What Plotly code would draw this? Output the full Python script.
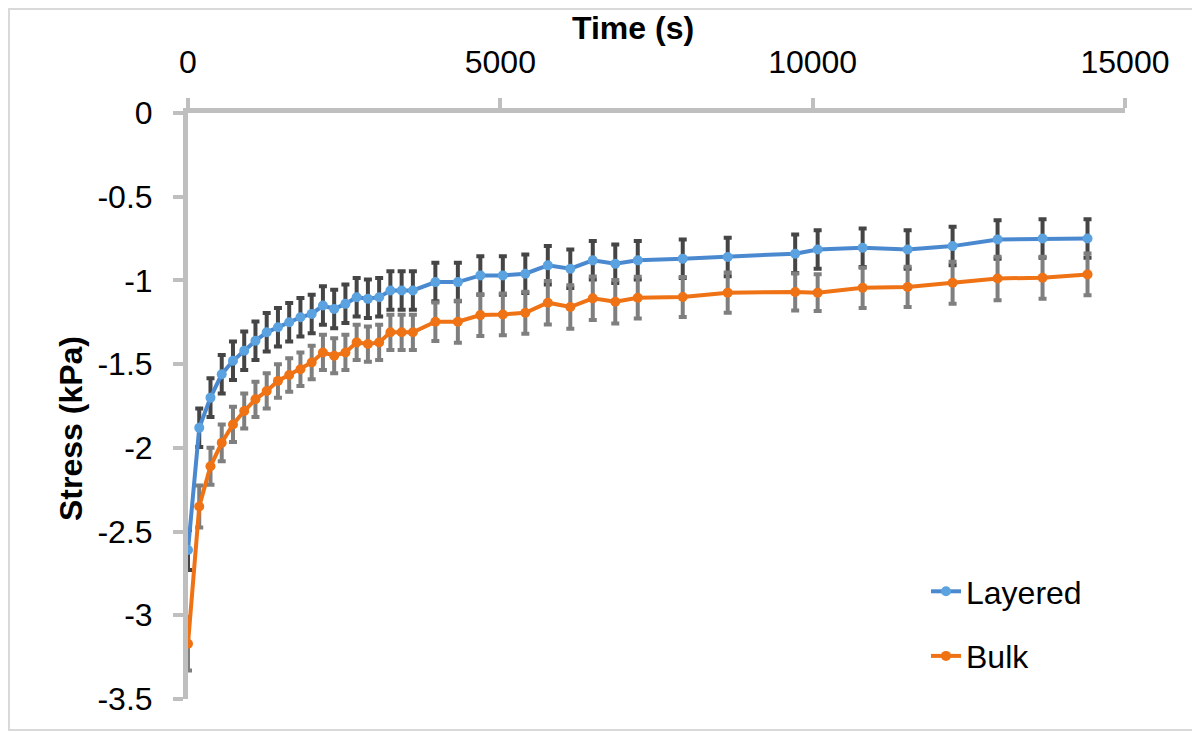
import plotly.graph_objects as go

# ---- data ----
time_s = [0, 180, 360, 540, 720, 900, 1080, 1260, 1440, 1620, 1800, 1980, 2160, 2340,
          2520, 2700, 2880, 3060, 3240, 3420, 3600,
          3960, 4320, 4680, 5040, 5400, 5760, 6120, 6480, 6840, 7200,
          7920, 8640, 9720, 10080, 10800, 11520, 12240, 12960, 13680, 14400]

layered = [-2.61, -1.88, -1.70, -1.56, -1.48, -1.42, -1.36, -1.31, -1.28, -1.25, -1.22,
           -1.20, -1.15, -1.17, -1.14, -1.10, -1.11, -1.10, -1.06, -1.06, -1.06,
           -1.01, -1.01, -0.97, -0.97, -0.96, -0.91, -0.93, -0.88, -0.90, -0.88,
           -0.87, -0.86, -0.84, -0.815, -0.805, -0.815, -0.795, -0.755, -0.75, -0.75]
layered_err = [0.12, 0.115, 0.115, 0.115, 0.115, 0.115, 0.115, 0.115, 0.115, 0.115, 0.115,
               0.115, 0.115, 0.115, 0.115, 0.115, 0.115, 0.115, 0.115, 0.115, 0.115,
               0.115, 0.115, 0.115, 0.115, 0.115, 0.115, 0.115, 0.115, 0.115, 0.115,
               0.115, 0.115, 0.115, 0.115, 0.115, 0.115, 0.115, 0.115, 0.115, 0.115]

bulk = [-3.17, -2.35, -2.11, -1.97, -1.86, -1.78, -1.71, -1.66, -1.60, -1.565, -1.53,
        -1.49, -1.43, -1.45, -1.43, -1.37, -1.38, -1.37, -1.31, -1.31, -1.31,
        -1.247, -1.247, -1.207, -1.203, -1.193, -1.133, -1.159, -1.107, -1.127, -1.103,
        -1.099, -1.073, -1.069, -1.073, -1.044, -1.039, -1.014, -0.988, -0.984, -0.964]
bulk_err = [0.16, 0.125, 0.11, 0.11, 0.105, 0.105, 0.105, 0.105, 0.10, 0.10, 0.10,
            0.10, 0.105, 0.105, 0.105, 0.105, 0.105, 0.105, 0.105, 0.105, 0.105,
            0.115, 0.125, 0.125, 0.125, 0.125, 0.13, 0.13, 0.13, 0.13, 0.125,
            0.12, 0.12, 0.11, 0.11, 0.12, 0.12, 0.125, 0.13, 0.125, 0.125]

x_ticks = [0, 5000, 10000, 15000]
x_tick_labels = ["0", "5000", "10000", "15000"]
y_ticks = [0, -0.5, -1, -1.5, -2, -2.5, -3, -3.5]
y_tick_labels = ["0", "-0.5", "-1", "-1.5", "-2", "-2.5", "-3", "-3.5"]

# ---- layout geometry (page pixels; the page body has an 8px margin) ----
OFF = 8
W, H = 1200 - OFF, 732 - OFF
PLOT_L, PLOT_R, PLOT_T, PLOT_B = 188, 1125, 113, 699   # target plot box on page
L, T = PLOT_L - OFF, PLOT_T - OFF
R, B = W - (PLOT_R - OFF), H - (PLOT_B - OFF)
PW, PH = W - L - R, H - T - B


def px_x(px):
    return (px - OFF - L) / PW


def px_y(py):
    return (H - B - (py - OFF)) / PH


FONT = "Liberation Sans, Arial, sans-serif"
AXIS_GREY = "#bfbfbf"

fig = go.Figure()
fig.add_trace(go.Scatter(
    x=time_s, y=layered, name="Layered", mode="lines+markers",
    legendgroup="a", cliponaxis=False,
    line=dict(color="#4a89d0", width=4),
    marker=dict(color="#5ba3e0", size=10),
    error_y=dict(type="data", array=layered_err, visible=True,
                 color="#454545", thickness=4, width=4),
))
fig.add_trace(go.Scatter(
    x=time_s, y=bulk, name="Bulk", mode="lines+markers",
    legendgroup="b", cliponaxis=False,
    line=dict(color="#ef7215", width=4),
    marker=dict(color="#ef7215", size=10),
    error_y=dict(type="data", array=bulk_err, visible=True,
                 color="#7f7f7f", thickness=4, width=4),
))

axis_common = dict(showgrid=False, zeroline=False)

fig.update_layout(
    width=W, height=H,
    margin=dict(l=L, r=R, t=T, b=B, autoexpand=False),
    paper_bgcolor="white", plot_bgcolor="white",
    font=dict(family=FONT, size=32, color="black"),
    showlegend=True,
    legend=dict(x=px_x(926), y=px_y(564), xanchor="left", yanchor="top",
                bgcolor="rgba(0,0,0,0)", font=dict(size=32, family=FONT),
                tracegroupgap=20, itemwidth=30),
    xaxis=dict(range=[0, 15000], side="top", anchor="y",
               tickvals=x_ticks, ticktext=x_tick_labels,
               showline=True, linecolor=AXIS_GREY, linewidth=5,
               ticks="outside", ticklen=10, tickwidth=4, tickcolor=AXIS_GREY,
               ticklabelstandoff=12,
               tickfont=dict(size=32, family=FONT, color="black"), **axis_common),
    xaxis2=dict(range=[0, 15000], side="top", anchor="y", overlaying="x",
                tickvals=x_ticks, showticklabels=False, showline=False,
                ticks="inside", ticklen=10, tickwidth=4, tickcolor=AXIS_GREY,
                **axis_common),
    yaxis=dict(range=[-3.5, 0], anchor="x",
               tickvals=y_ticks, ticktext=y_tick_labels,
               showline=True, linecolor=AXIS_GREY, linewidth=5,
               ticks="outside", ticklen=10, tickwidth=4, tickcolor=AXIS_GREY,
               ticklabelstandoff=14,
               tickfont=dict(size=32, family=FONT, color="black"), **axis_common),
    yaxis2=dict(range=[-3.5, 0], anchor="x", overlaying="y",
                tickvals=y_ticks, showticklabels=False, showline=False,
                ticks="inside", ticklen=10, tickwidth=4, tickcolor=AXIS_GREY,
                **axis_common),
    annotations=[
        dict(text="<b>Time (s)</b>", xref="paper", yref="paper",
             x=px_x(633), y=px_y(28), xanchor="center", yanchor="middle",
             showarrow=False, font=dict(size=32, family=FONT, color="black")),
        dict(text="<b>Stress (kPa)</b>", xref="paper", yref="paper",
             x=px_x(71), y=px_y(429), xanchor="center", yanchor="middle",
             textangle=-90, showarrow=False,
             font=dict(size=32, family=FONT, color="black")),
    ],
    shapes=[
        dict(type="rect", xref="paper", yref="paper",
             x0=px_x(OFF + 1), x1=px_x(1198), y0=px_y(730), y1=px_y(OFF + 1),
             line=dict(color="#d9d9d9", width=2), fillcolor="rgba(0,0,0,0)",
             layer="below"),
    ],
)

fig.write_html("out.html")
